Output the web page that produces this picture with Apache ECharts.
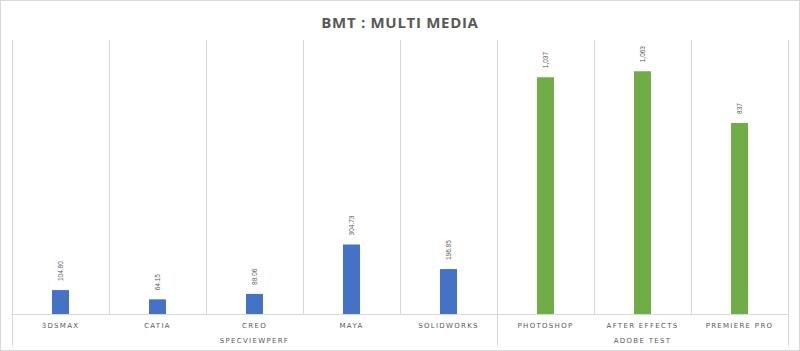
<!DOCTYPE html>
<html>
<head>
<meta charset="utf-8">
<script src="https://cdn.jsdelivr.net/npm/echarts@6/dist/echarts.min.js"></script>
<style>
  html, body { margin: 0; padding: 0; background: #fff; }
  #chart { width: 798px; height: 349px; border: 1px solid #d9d9d9; }
  /* axis labels are letter-spaced in the original, value labels are not */
  #chart svg text { letter-spacing: 1.3px; }
  #chart svg text[style*="6.5px"] { letter-spacing: 0; }
  #chart svg text[style*="15px"] { letter-spacing: 0.7px; }
</style>
</head>
<body>
<div id="chart"></div>
<script>
// categories and values
const categories = ['3DSMAX', 'CATIA', 'CREO', 'MAYA', 'SOLIDWORKS', 'PHOTOSHOP', 'AFTER EFFECTS', 'PREMIERE PRO']
const groups = ['SPECVIEWPERF', 'ADOBE TEST']
const groupSizes = [5, 3]
const values = [104.80, 64.15, 88.06, 304.73, 196.85, 1037, 1063, 837]
const valueLabels = ['104.80', '64.15', '88.06', '304.73', '196.85', '1,037', '1,063', '837']

const COLORS = ['#4472C4', '#70AD47']
const TEXT = '#595959'
const LINE = '#d9d9d9'

// group index of each category, and which category carries the group label
const groupOf = []
groupSizes.forEach((n, g) => { for (let i = 0; i < n; i++) groupOf.push(g) })
const groupStart = [0]
groupSizes.forEach((n, g) => groupStart.push(groupStart[g] + n))
const groupLabelAt = {}
groupSizes.forEach((n, g) => { groupLabelAt[groupStart[g] + Math.floor(n / 2)] = groups[g] })

const chart = echarts.init(document.getElementById('chart'), null, { renderer: 'svg' })

chart.setOption({
  animation: false,
  title: {
    text: 'BMT : MULTI MEDIA',
    left: 'center',
    top: 8,
    textStyle: { color: TEXT, fontSize: 15, fontWeight: 'bold', fontFamily: 'Open Sans' },
  },
  grid: { left: 11, right: 11, top: 39, bottom: 36, containLabel: false },
  xAxis: [
    {
      type: 'category',
      data: categories,
      axisLine: { lineStyle: { color: LINE } },
      axisTick: { show: false },
      splitLine: { show: true, lineStyle: { color: LINE } },
      axisLabel: { color: TEXT, fontSize: 7, margin: 8, fontFamily: 'DejaVu Sans', interval: 0 },
    },
    {
      type: 'category',
      position: 'bottom',
      data: categories,
      axisLine: { show: false },
      axisTick: {
        show: true,
        length: 32,
        interval: (i) => groupStart.includes(i),
        lineStyle: { color: LINE, width: 1 },
      },
      axisLabel: {
        color: TEXT,
        fontSize: 7,
        margin: 23,
        fontFamily: 'DejaVu Sans',
        interval: 0,
        formatter: (v, i) => groupLabelAt[i] || '',
      },
    },
  ],
  yAxis: {
    type: 'value',
    min: 0,
    max: 1200,
    show: false,
    splitLine: { show: false },
  },
  series: [
    {
      type: 'bar',
      xAxisIndex: 0,
      barWidth: 17,
      data: values.map((v, i) => ({ value: v, itemStyle: { color: COLORS[groupOf[i]] } })),
      label: {
        show: true,
        position: 'top',
        rotate: 90,
        align: 'left',
        verticalAlign: 'middle',
        distance: 9,
        color: TEXT,
        fontSize: 6.5,
        fontFamily: 'Liberation Sans',
        formatter: (p) => valueLabels[p.dataIndex],
      },
    },
  ],
})
</script>
</body>
</html>
